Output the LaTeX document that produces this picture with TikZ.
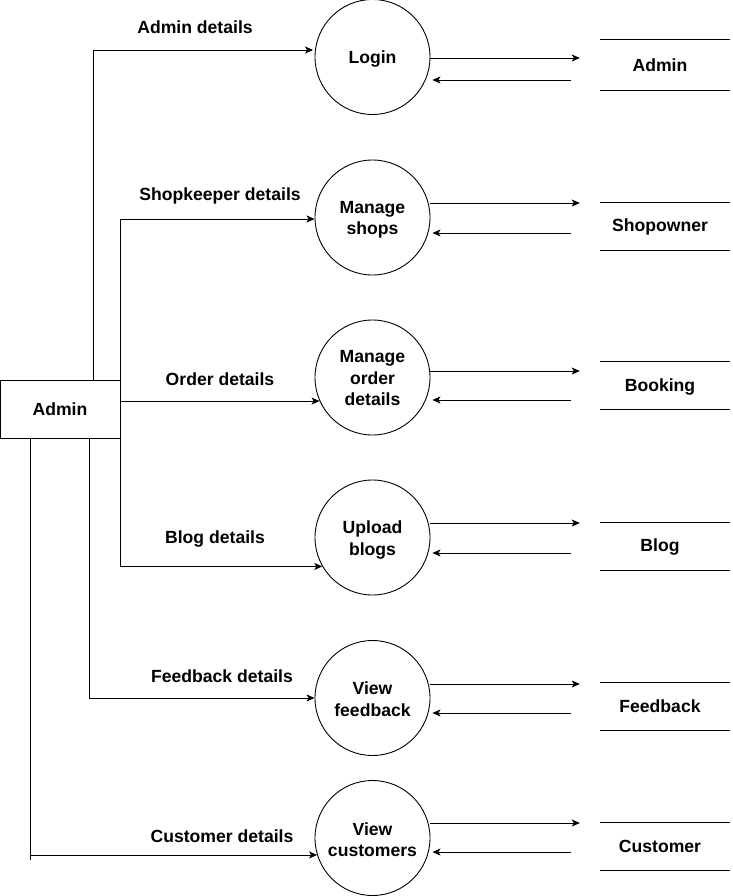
\documentclass[tikz,border=0pt]{standalone}
\usepackage{fontspec}
\setmainfont{Liberation Sans}
\usetikzlibrary{arrows.meta,calc}
\begin{document}
\begin{tikzpicture}[x=1pt,y=-1pt,
  txt/.style={font=\bfseries\fontsize{17.6}{21.5}\selectfont, inner sep=0pt, align=center},
  proc/.style={draw, circle, line width=0.9pt, minimum size=115pt, inner sep=0pt},
  store/.style={minimum width=130pt, minimum height=47pt, inner sep=0pt},
  ent/.style={txt, draw, line width=0.9pt, minimum width=120pt, minimum height=58pt},
  conn/.style={line width=0.9pt},
  arr/.style={conn, -{Stealth[length=8pt,width=7pt,inset=2pt]}}]
\useasboundingbox (0,0) rectangle (732,896);

% external entity
\node[ent] (admin) at (60,409) {Admin};

% processes
\node[proc] (login) at (372.5,57) {};
\node[proc] (shops) at (372.5,217.5) {};
\node[proc] (order) at (372.5,377.5) {};
\node[proc] (upload) at (372.5,537.5) {};
\node[proc] (feedback) at (372.5,698) {};
\node[proc] (customers) at (372.5,838) {};
\node[txt] (plogin) at ([yshift=-2pt]login.center) {Login};
\node[txt] (pshops) at ([yshift=-2.5pt]shops.center) {Manage\\shops};
\node[txt] (porder) at ([yshift=-1pt]order.center) {Manage\\order\\details};
\node[txt] (pupload) at ([yshift=-2.5pt]upload.center) {Upload\\blogs};
\node[txt] (pfeed) at ([yshift=-1pt]feedback.center) {View\\feedback};
\node[txt] (pcust) at ([yshift=-1.5pt]customers.center) {View\\customers};

% data stores
\node[store, minimum height=50pt] (sadmin) at (665,65) {};
\node[store] (sshop) at (665,226.5) {};
\node[store] (sbook) at (665,385.5) {};
\node[store] (sblog) at (665,546.5) {};
\node[store] (sfeed) at (665,706.5) {};
\node[store] (scust) at (665,846.5) {};
\node[txt] (tadmin) at (660,65.5) {Admin};
\node[txt] (tshop) at (660,226.5) {Shopowner};
\node[txt] (tbook) at (660,386.5) {Booking};
\node[txt] (tblog) at (660,546.5) {Blog};
\node[txt] (tfeed) at (660,706) {Feedback};
\node[txt] (tcust) at (660,846) {Customer};
\foreach \s in {sadmin,sshop,sbook,sblog,sfeed,scust}{
  \draw[conn] (\s.north west) -- (\s.north east);
  \draw[conn] (\s.south west) -- (\s.south east);
}

% flow labels
\node[txt] (ladmin) at (195,27.5) {Admin details};
\node[txt] (lshop) at (220,196) {Shopkeeper details};
\node[txt] (lorder) at (220,379) {Order details};
\node[txt] (lblog) at (215,539) {Blog details};
\node[txt] (lfeed) at (222,676) {Feedback details};
\node[txt] (lcust) at (222,836) {Customer details};

% flows from the entity
\draw[arr, shorten >=1.5pt] ([xshift=94pt]admin.north west) |- (login.west |- 0,50);
\draw[arr] (admin.north east) |- (shops.west |- 0,219);
\draw[arr] (admin.east |- order.204) -- (order.204);
\draw[arr] (admin.south east) |- (upload.210);
\draw[arr] ([xshift=90pt]admin.south west) |- (feedback.west);
\coordinate (cend) at (30,860);
\draw[conn] (admin.south west -| cend) -- (cend);
\draw[arr] (cend |- customers.197) -- (customers.197);

% flows between processes and stores
\foreach \p/\s/\o/\b in {login/sadmin/58/80, shops/sshop/203/233, order/sbook/371/400,
    upload/sblog/523/553, feedback/sfeed/684/713, customers/scust/823/852}{
  \draw[arr] (\p.east |- 0,\o) -- ([xshift=-20pt]\s.west |- 0,\o);
  \draw[arr] ([xshift=-29pt]\s.west |- 0,\b) -- ([xshift=2pt]\p.east |- 0,\b);
}
\end{tikzpicture}
\end{document}
